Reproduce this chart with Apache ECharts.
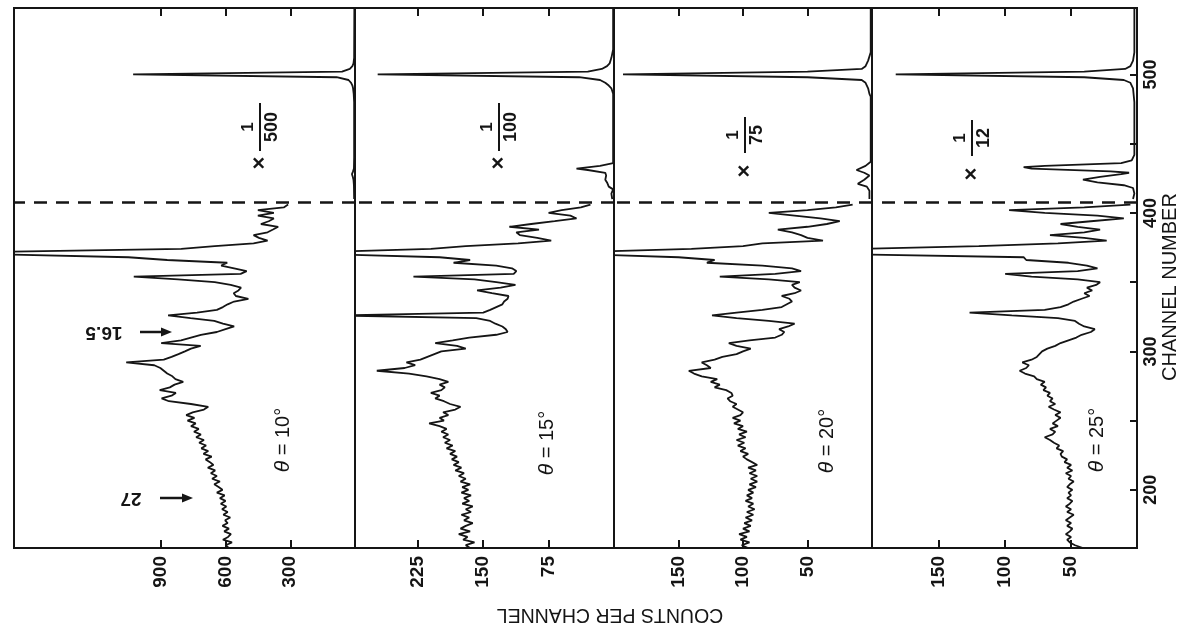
<!DOCTYPE html>
<html><head><meta charset="utf-8">
<script src="https://cdn.jsdelivr.net/npm/echarts@6/dist/echarts.min.js"></script>
<style>html,body{margin:0;padding:0;background:#fff}#c{width:1185px;height:628px}</style>
</head><body><div id="c"></div>
<script>
// ---- data (channel number vs counts per channel) ----
const channelsLow = [
158,160,162,164,166,168,170,172,174,176,
178,180,182,184,186,188,190,192,194,196,
198,200,202,204,206,208,210,212,214,216,
218,220,222,224,226,228,230,232,234,236,
238,240,242,244,246,248,250,252,254,256,
258,260,262,264,266,268,270,272,274,276,
278,280,282,284,286,288,290,292,294,296,
298,300,302,304,306,308,310,312,314,316,
318,320,322,324,326,328,330,332,334,336,
338,340,342,344,346,348,350,352,354,356,
358,360,362,364,366,368,370,372,374,376,
378,380,382,384,386,388,390,392,394,396,
398,400,402,404,406];
const counts10 = [
585,600,570,612,588,575,606,584,614,590,
602,578,610,590,616,596,622,600,626,604,
640,614,632,652,626,662,640,668,648,682,
656,672,692,664,702,680,712,690,722,700,
736,714,746,724,760,738,776,744,782,752,
700,680,760,862,896,850,830,905,858,836,
796,832,846,870,886,902,930,1060,886,850,
818,788,760,715,898,806,760,714,640,600,
560,612,652,762,866,732,640,612,590,560,
494,552,562,540,528,576,650,820,1025,530,
502,560,620,592,870,1050,1600,1600,805,650,
470,405,445,470,405,380,356,436,400,376,
450,376,450,330,310];
const counts15 = [
165,170,160,173,168,178,165,176,170,162,
172,166,175,164,170,162,174,166,172,164,
175,167,174,165,176,170,178,172,182,175,
184,178,186,180,188,182,192,185,194,188,
196,190,198,192,200,212,195,200,190,196,
182,176,188,195,205,200,210,198,194,200,
190,200,215,235,272,240,228,238,222,214,
206,198,170,180,205,185,166,135,122,124,
128,136,142,158,320,150,142,135,128,126,
122,121,140,157,130,113,135,160,230,115,
112,117,135,184,165,200,320,320,210,170,
110,72,88,108,112,86,120,95,68,43,
50,75,60,38,27];
const counts20 = [
96,101,95,102,97,103,95,100,94,99,
93,98,92,97,91,96,92,98,93,97,
92,96,90,95,89,94,89,95,90,96,
89,93,97,100,96,102,98,104,99,105,
98,103,97,104,100,107,102,108,102,100,
104,108,105,110,112,108,109,113,122,118,
125,120,132,138,142,125,128,132,122,116,
105,100,94,105,111,95,75,70,68,72,
65,60,80,105,124,105,85,70,66,62,
64,70,60,55,60,62,56,80,118,75,
55,62,85,128,122,150,215,215,140,100,
85,38,50,55,62,73,50,35,25,40,
60,80,50,28,15];
const counts25 = [
41,47,51,53,50,54,51,49,53,50,
54,51,48,53,50,54,51,49,53,50,
52,49,53,51,48,52,50,54,49,53,
50,55,53,57,58,56,61,59,63,66,
70,64,62,66,60,64,61,58,62,58,
63,67,62,66,64,68,66,71,69,73,
70,76,78,85,89,84,82,87,80,76,
74,72,68,62,58,52,46,42,35,32,
40,44,47,60,95,127,70,58,52,48,
42,36,40,34,38,31,28,45,80,100,
45,30,38,52,84,86,210,210,210,120,
60,23,40,66,40,28,45,58,35,10,
30,70,97,40,5];
// scaled part above the dashed line: [channel, displayed counts]
const upper10 = [[410,4],[420,5],[424,7],[426,10],[428,14],[430,9],[432,5],[440,4],[480,4],[486,6],[490,9],[492,12],[494,18],[496,30],[498,85],[500,1028],[502,60],[504,24],[506,12],[508,7],[512,4],[548,3]];
const upper15 = [[410,2],[414,3],[417,1],[419,6],[422,8],[424,10],[427,9],[429,10],[431,30],[432,43],[434,16],[436,1],[486,1],[488,2],[490,3],[492,6],[494,10],[496,16],[498,40],[500,271],[502,30],[504,14],[506,8],[508,5],[512,3],[518,1],[548,1]];
const upper20 = [[410,2],[416,2],[419,4],[421,11],[424,6],[427,2],[429,6],[431,12],[434,5],[437,1],[484,1],[486,2],[490,3],[494,5],[496,8],[498,50],[500,193],[502,50],[504,8],[506,5],[510,3],[516,1],[548,1]];
const upper25 = [[410,3],[414,2],[418,3],[420,10],[422,30],[424,41],[426,28],[428,12],[429,6],[430,20],[432,80],[433,86],[434,70],[436,12],[438,4],[442,2],[480,2],[490,3],[494,5],[496,10],[498,40],[500,183],[502,40],[504,9],[506,5],[510,3],[516,2],[548,2]];

const angles = ['10', '15', '20', '25'];
const scaleDenominators = ['500', '100', '75', '12'];
const countTicks = [[300, 600, 900], [75, 150, 225], [50, 100, 150], [50, 100, 150]];
const countMax = [1580, 297, 200, 201];
const channelTicks = [200, 250, 300, 350, 400, 450, 500];
const channelLabels = [200, 300, 400, 500];
const channelMin = 158, channelMax = 548;
const splitChannel = 407.5;

// ---- layout / style ----
const ink = '#151515';
const font = "'Liberation Sans', Arial, Helvetica, sans-serif";
const panels = [
  { left: 14, width: 341, counts: counts10, upper: upper10 },
  { left: 355, width: 259, counts: counts15, upper: upper15 },
  { left: 614, width: 258, counts: counts20, upper: upper20 },
  { left: 872, width: 265, counts: counts25, upper: upper25 }
];
const thetaPos = [[283, 440], [547, 443], [827, 441], [1097, 440]];
const fracPos = [[260, 145], [499, 145], [745, 153], [972, 156]];

function seriesData(counts, upper) {
  const d = channelsLow.map((c, k) => [counts[k], c]);
  d.push(['-', splitChannel]);
  upper.forEach(p => d.push([p[1], p[0]]));
  return d;
}

const grid = [], xAxis = [], yAxis = [], series = [];
panels.forEach((p, i) => {
  grid.push({ left: p.left, width: p.width, top: 8, height: 540, show: true,
    borderColor: ink, borderWidth: 2, backgroundColor: 'transparent' });
  const xBase = { gridIndex: i, type: 'value', inverse: true, min: 0, max: countMax[i],
    axisLine: { show: false }, splitLine: { show: false } };
  xAxis.push(Object.assign({}, xBase, { position: 'bottom',
    axisTick: { inside: true, length: 8, lineStyle: { color: ink, width: 2 }, customValues: countTicks[i] },
    axisLabel: { rotate: 90, margin: 8, fontSize: 19, fontWeight: 'bold', color: ink, fontFamily: font, customValues: countTicks[i] } }));
  xAxis.push(Object.assign({}, xBase, { position: 'top',
    axisTick: { inside: true, length: 8, lineStyle: { color: ink, width: 2 }, customValues: countTicks[i] },
    axisLabel: { show: false } }));
  const last = i === 3;
  yAxis.push({ gridIndex: i, type: 'value', min: channelMin, max: channelMax, position: 'right',
    axisLine: { show: false }, splitLine: { show: false },
    axisTick: { show: last, inside: true, length: 7, lineStyle: { color: ink, width: 2 }, customValues: channelTicks },
    axisLabel: { show: last, rotate: 90, margin: 5, fontSize: 18, fontWeight: 'bold', color: ink, fontFamily: font, customValues: channelLabels } });
  series.push({ type: 'line', xAxisIndex: 2 * i, yAxisIndex: i, data: seriesData(p.counts, p.upper),
    showSymbol: false, symbol: 'none', clip: true, connectNulls: false, animation: false,
    lineStyle: { color: ink, width: 1.8 },
    markLine: { silent: true, symbol: 'none', label: { show: false }, animation: false,
      lineStyle: { color: ink, width: 2.6, type: [13, 9] }, data: [{ yAxis: splitChannel }] } });
});

const graphic = [];
thetaPos.forEach((pos, i) => {
  graphic.push({ type: 'text', x: pos[0], y: pos[1], rotation: Math.PI / 2,
    style: { text: '{t|θ} = ' + angles[i] + '°', x: 0, y: 0, align: 'center', verticalAlign: 'middle',
      textAlign: 'center', textVerticalAlign: 'middle',
      fill: ink, fontSize: 20, fontFamily: font,
      rich: { t: { fontStyle: 'italic', fontSize: 21, fontFamily: font, fill: ink } } } });
});
fracPos.forEach((pos, i) => {
  const den = scaleDenominators[i];
  const barHalf = 6 + den.length * 6;
  const tstyle = (t, x, y, size) => ({ text: t, x: x, y: y, align: 'center', verticalAlign: 'middle',
    textAlign: 'center', textVerticalAlign: 'middle', fill: ink, fontSize: size, fontWeight: 'bold', fontFamily: font });
  graphic.push({ type: 'group', x: pos[0], y: pos[1], rotation: Math.PI / 2, children: [
    { type: 'text', style: tstyle('×', -18, 0, 22) },
    { type: 'text', style: tstyle('1', 18, -12, 17) },
    { type: 'line', shape: { x1: 18 - barHalf, y1: 0, x2: 18 + barHalf, y2: 0 }, style: { stroke: ink, lineWidth: 2 } },
    { type: 'text', style: tstyle(den, 18, 12, 18) }
  ] });
});
// upside-down annotations with arrows
const notes = [['16.5', 104, 332, 140, 172], ['27', 131, 498, 160, 193]];
notes.forEach(n => {
  graphic.push({ type: 'text', x: n[1], y: n[2], rotation: Math.PI,
    style: { text: n[0], x: 0, y: 0, align: 'center', verticalAlign: 'middle', textAlign: 'center', textVerticalAlign: 'middle',
      fill: ink, fontSize: 19, fontWeight: 'bold', fontFamily: font } });
  graphic.push({ type: 'line', shape: { x1: n[3], y1: n[2], x2: n[4] - 6, y2: n[2] }, style: { stroke: ink, lineWidth: 2.5 } });
  graphic.push({ type: 'polygon', shape: { points: [[n[4], n[2]], [n[4] - 11, n[2] - 4.5], [n[4] - 11, n[2] + 4.5]] }, style: { fill: ink } });
});
graphic.push({ type: 'text', x: 610, y: 614, rotation: Math.PI,
  style: { text: 'COUNTS PER CHANNEL', x: 0, y: 0, align: 'center', verticalAlign: 'middle', textAlign: 'center', textVerticalAlign: 'middle',
    fill: ink, fontSize: 19.5, fontFamily: font } });
graphic.push({ type: 'text', x: 1170, y: 287, rotation: Math.PI / 2,
  style: { text: 'CHANNEL NUMBER', x: 0, y: 0, align: 'center', verticalAlign: 'middle', textAlign: 'center', textVerticalAlign: 'middle',
    fill: ink, fontSize: 20, fontFamily: font } });

const chart = echarts.init(document.getElementById('c'), null, { renderer: 'canvas' });
chart.setOption({ backgroundColor: '#ffffff', animation: false, grid, xAxis, yAxis, series, graphic });
</script></body></html>
